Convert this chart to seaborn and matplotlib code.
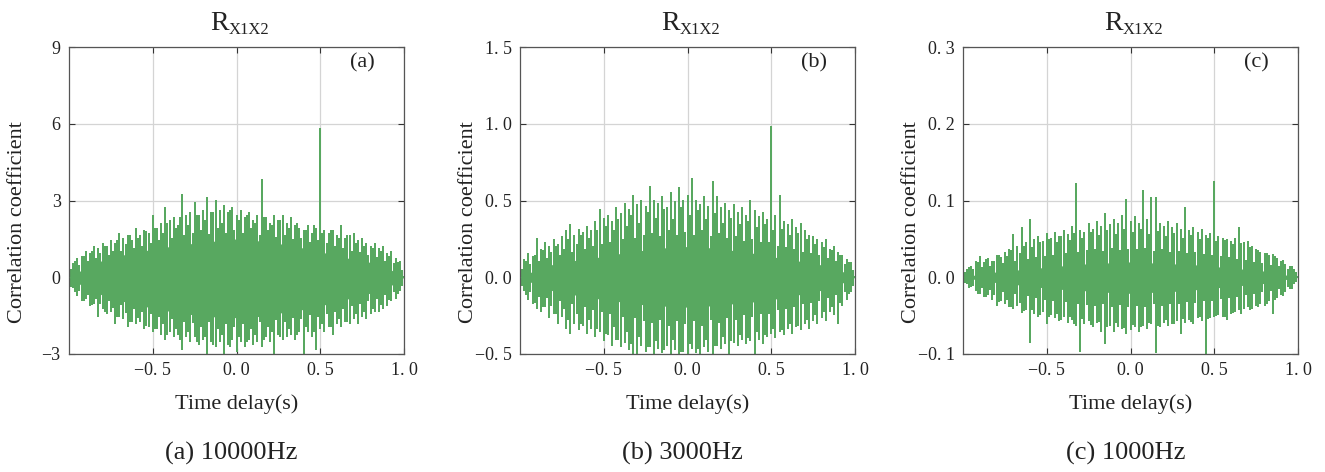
import numpy as np
import pandas as pd
import matplotlib
matplotlib.use("Agg")
import matplotlib.pyplot as plt
import seaborn as sns

# ---------------- data ----------------
# positions of the tip readings (time delay, s): main grid and mid points
t_peak = [round(-1 + 0.025 * i, 4) for i in range(81)]
t_mid = [round(-0.9875 + 0.025 * i, 4) for i in range(80)]
t_core = [round(-1 + 0.1 * i, 2) for i in range(21)]

# panel (a) 10000 Hz : upper / lower tips of the correlation trace
a_hi = [0.0, 0.5, 0.7, 0.8, 1.0, 0.9, 1.2, 1.1, 1.3, 1.2, 1.4, 1.3, 1.7, 1.5, 1.6, 1.4, 1.9, 1.6, 1.8, 1.7,
        2.4, 1.9, 2.1, 2.7, 2.2, 2.3, 2.0, 3.2, 2.4, 2.5, 2.9, 2.4, 2.6, 3.1, 2.5, 3.0, 2.6, 2.8, 2.5, 2.7,
        2.4, 2.6, 2.3, 2.5, 2.2, 2.4, 3.8, 2.3, 2.1, 2.4, 2.2, 2.4, 2.1, 2.3, 2.0, 1.9, 1.8, 2.0, 1.7, 1.9,
        5.8, 1.8, 1.7, 1.8, 1.6, 2.0, 1.5, 1.6, 1.7, 1.4, 1.5, 1.3, 1.2, 1.3, 1.1, 1.2, 0.9, 1.0, 0.7, 0.6, 0.0]
a_hi_mid = [0.3, 0.6, 0.45, 0.8, 0.6, 1.0, 0.7, 0.9, 1.2, 0.85, 1.0, 1.4, 1.0, 1.25, 1.6, 1.1, 1.5, 1.2, 1.75, 1.3,
            1.9, 1.4, 1.7, 2.1, 1.5, 1.9, 2.3, 1.6, 2.0, 1.7, 2.4, 1.8, 2.2, 1.65, 2.5, 1.9, 2.1, 1.7, 2.6, 1.8,
            2.2, 1.7, 2.4, 1.9, 2.1, 1.6, 2.3, 1.8, 2.0, 1.55, 2.2, 1.6, 1.9, 1.45, 2.1, 1.5, 1.8, 1.35, 2.0, 1.4,
            1.7, 1.3, 1.8, 1.2, 1.5, 1.1, 1.6, 1.0, 1.3, 0.95, 1.2, 0.85, 1.1, 0.75, 1.0, 0.6, 0.8, 0.5, 0.55, 0.25]
a_lo = [0.0, -0.4, -0.7, -0.9, -0.8, -1.1, -1.0, -1.5, -1.2, -1.4, -1.3, -1.8, -1.5, -1.6, -1.9, -1.7, -1.8, -1.7, -2.0, -1.9,
        -2.1, -2.0, -2.2, -2.4, -2.1, -2.3, -2.2, -2.8, -2.3, -2.5, -2.3, -2.6, -2.4, -3.2, -2.5, -2.7, -2.5, -3.2, -2.6, -2.4,
        -2.9, -2.5, -2.7, -2.4, -2.6, -2.5, -2.7, -2.3, -2.5, -3.2, -2.2, -2.4, -2.3, -2.2, -2.4, -2.1, -3.2, -2.1, -2.3, -2.8,
        -2.0, -2.1, -1.9, -2.2, -1.8, -1.9, -1.7, -1.8, -1.6, -1.8, -1.5, -1.6, -1.4, -1.3, -1.3, -1.2, -1.1, -0.9, -0.8, -0.5, 0.0]
a_lo_mid = [-0.35, -0.55, -0.5, -0.9, -0.65, -1.05, -0.8, -1.0, -1.3, -0.9, -1.15, -1.5, -1.05, -1.35, -1.7, -1.2, -1.55, -1.3, -1.85, -1.4,
            -2.0, -1.5, -1.8, -2.2, -1.6, -2.0, -2.4, -1.7, -2.1, -1.75, -2.5, -1.9, -2.3, -1.7, -2.6, -2.0, -2.2, -1.8, -2.7, -1.9,
            -2.3, -1.8, -2.5, -2.0, -2.2, -1.7, -2.4, -1.9, -2.1, -1.65, -2.3, -1.7, -2.0, -1.55, -2.2, -1.6, -1.9, -1.45, -2.1, -1.5,
            -1.8, -1.4, -1.9, -1.3, -1.6, -1.2, -1.7, -1.1, -1.4, -1.0, -1.3, -0.9, -1.2, -0.8, -1.05, -0.65, -0.85, -0.55, -0.6, -0.3]
a_core_hi = [0, 0.37, 0.66, 0.83, 1.0, 1.08, 1.2, 1.29, 1.37, 1.43, 1.5, 1.45, 1.36, 1.27, 1.14, 1.0, 0.83, 0.7, 0.58, 0.37, 0]
a_core_lo = [0, -0.42, -0.7, -0.9, -1.08, -1.2, -1.33, -1.43, -1.52, -1.56, -1.58, -1.56, -1.47, -1.35, -1.26, -1.12, -0.95, -0.79, -0.62, -0.42, 0]

# panel (b) 3000 Hz
b_hi = [0.0, 0.11, 0.15, 0.13, 0.25, 0.18, 0.22, 0.20, 0.24, 0.21, 0.26, 0.30, 0.34, 0.27, 0.31, 0.29, 0.33, 0.30, 0.36, 0.44,
        0.38, 0.40, 0.36, 0.45, 0.41, 0.48, 0.44, 0.53, 0.47, 0.50, 0.46, 0.59, 0.50, 0.48, 0.52, 0.45, 0.55, 0.49, 0.58, 0.50,
        0.53, 0.64, 0.50, 0.47, 0.52, 0.46, 0.62, 0.52, 0.45, 0.48, 0.43, 0.47, 0.42, 0.45, 0.40, 0.50, 0.43, 0.39, 0.42, 0.37,
        0.98, 0.40, 0.53, 0.36, 0.34, 0.37, 0.32, 0.35, 0.30, 0.27, 0.26, 0.24, 0.22, 0.24, 0.18, 0.20, 0.16, 0.14, 0.11, 0.09, 0.0]
b_hi_mid = [0.05, 0.10, 0.08, 0.14, 0.10, 0.17, 0.12, 0.16, 0.20, 0.14, 0.18, 0.24, 0.16, 0.21, 0.27, 0.18, 0.25, 0.20, 0.30, 0.21,
            0.33, 0.22, 0.30, 0.37, 0.24, 0.33, 0.40, 0.25, 0.35, 0.27, 0.42, 0.28, 0.38, 0.26, 0.44, 0.30, 0.37, 0.27, 0.45, 0.29,
            0.40, 0.27, 0.43, 0.30, 0.37, 0.26, 0.41, 0.28, 0.35, 0.25, 0.38, 0.26, 0.34, 0.23, 0.36, 0.24, 0.32, 0.22, 0.34, 0.22,
            0.30, 0.20, 0.31, 0.19, 0.27, 0.18, 0.28, 0.16, 0.24, 0.15, 0.21, 0.14, 0.19, 0.12, 0.17, 0.10, 0.14, 0.08, 0.09, 0.04]
b_lo = [0.0, -0.08, -0.14, -0.17, -0.20, -0.22, -0.19, -0.26, -0.23, -0.30, -0.25, -0.33, -0.36, -0.30, -0.34, -0.31, -0.36, -0.33, -0.38, -0.35,
        -0.41, -0.37, -0.44, -0.40, -0.45, -0.42, -0.47, -0.52, -0.55, -0.44, -0.48, -0.45, -0.50, -0.46, -0.49, -0.44, -0.52, -0.47, -0.55, -0.48,
        -0.55, -0.46, -0.49, -0.53, -0.45, -0.48, -0.55, -0.44, -0.46, -0.43, -0.55, -0.42, -0.44, -0.40, -0.43, -0.41, -0.55, -0.40, -0.43, -0.38,
        -0.36, -0.39, -0.35, -0.37, -0.33, -0.36, -0.32, -0.34, -0.30, -0.33, -0.28, -0.30, -0.26, -0.28, -0.22, -0.24, -0.30, -0.18, -0.14, -0.09, 0.0]
b_lo_mid = [-0.05, -0.11, -0.09, -0.16, -0.12, -0.19, -0.13, -0.18, -0.23, -0.15, -0.20, -0.27, -0.17, -0.23, -0.30, -0.19, -0.27, -0.21, -0.33, -0.22,
            -0.36, -0.23, -0.32, -0.40, -0.25, -0.35, -0.43, -0.26, -0.38, -0.28, -0.45, -0.29, -0.41, -0.27, -0.47, -0.31, -0.40, -0.28, -0.48, -0.30,
            -0.43, -0.28, -0.46, -0.31, -0.40, -0.27, -0.44, -0.29, -0.38, -0.26, -0.41, -0.27, -0.37, -0.24, -0.39, -0.25, -0.35, -0.23, -0.37, -0.23,
            -0.33, -0.21, -0.34, -0.20, -0.30, -0.19, -0.31, -0.17, -0.27, -0.16, -0.24, -0.15, -0.22, -0.13, -0.19, -0.11, -0.16, -0.09, -0.10, -0.05]
b_core_hi = [0, 0.05, 0.085, 0.105, 0.12, 0.135, 0.155, 0.17, 0.185, 0.195, 0.2, 0.195, 0.185, 0.17, 0.155, 0.135, 0.115, 0.1, 0.08, 0.05, 0]
b_core_lo = [0, -0.05, -0.09, -0.11, -0.13, -0.145, -0.16, -0.175, -0.185, -0.19, -0.195, -0.19, -0.18, -0.17, -0.16, -0.145, -0.13, -0.105, -0.085, -0.05, 0]

# panel (c) 1000 Hz
c_hi = [0.0, 0.010, 0.014, 0.020, 0.027, 0.018, 0.024, 0.020, 0.028, 0.025, 0.032, 0.036, 0.055, 0.040, 0.064, 0.045, 0.075, 0.048, 0.052, 0.046,
        0.056, 0.050, 0.058, 0.052, 0.060, 0.055, 0.065, 0.121, 0.060, 0.058, 0.070, 0.062, 0.072, 0.065, 0.083, 0.068, 0.075, 0.070, 0.080, 0.101,
        0.072, 0.078, 0.070, 0.113, 0.075, 0.103, 0.103, 0.070, 0.066, 0.072, 0.064, 0.070, 0.062, 0.090, 0.060, 0.064, 0.058, 0.062, 0.054, 0.056,
        0.124, 0.052, 0.050, 0.048, 0.046, 0.050, 0.064, 0.044, 0.046, 0.040, 0.036, 0.032, 0.030, 0.028, 0.029, 0.024, 0.020, 0.016, 0.014, 0.009, 0.0]
c_hi_mid = [0.006, 0.012, 0.009, 0.018, 0.012, 0.022, 0.014, 0.020, 0.028, 0.017, 0.026, 0.034, 0.020, 0.030, 0.040, 0.022, 0.038, 0.025, 0.045, 0.027,
            0.048, 0.028, 0.044, 0.052, 0.030, 0.047, 0.056, 0.032, 0.050, 0.034, 0.058, 0.035, 0.054, 0.033, 0.060, 0.037, 0.055, 0.034, 0.062, 0.036,
            0.058, 0.035, 0.061, 0.037, 0.055, 0.033, 0.059, 0.035, 0.052, 0.032, 0.056, 0.033, 0.050, 0.030, 0.054, 0.031, 0.048, 0.029, 0.050, 0.028,
            0.046, 0.026, 0.047, 0.025, 0.042, 0.023, 0.043, 0.021, 0.038, 0.019, 0.034, 0.017, 0.030, 0.015, 0.026, 0.013, 0.021, 0.010, 0.013, 0.005]
c_lo = [0.0, -0.008, -0.012, -0.016, -0.020, -0.025, -0.022, -0.028, -0.036, -0.030, -0.034, -0.038, -0.040, -0.036, -0.045, -0.042, -0.084, -0.046, -0.050, -0.044,
        -0.060, -0.048, -0.052, -0.056, -0.050, -0.058, -0.054, -0.062, -0.096, -0.060, -0.056, -0.064, -0.058, -0.070, -0.086, -0.062, -0.070, -0.064, -0.066, -0.073,
        -0.068, -0.064, -0.070, -0.062, -0.066, -0.060, -0.098, -0.064, -0.058, -0.062, -0.060, -0.056, -0.073, -0.058, -0.054, -0.060, -0.052, -0.056, -0.100, -0.052,
        -0.050, -0.048, -0.050, -0.055, -0.046, -0.044, -0.042, -0.040, -0.038, -0.040, -0.036, -0.034, -0.036, -0.030, -0.047, -0.026, -0.022, -0.018, -0.014, -0.008, 0.0]
c_lo_mid = [-0.006, -0.013, -0.010, -0.020, -0.013, -0.024, -0.015, -0.022, -0.031, -0.018, -0.028, -0.037, -0.021, -0.032, -0.043, -0.023, -0.041, -0.026, -0.048, -0.028,
            -0.051, -0.029, -0.047, -0.055, -0.031, -0.050, -0.059, -0.033, -0.053, -0.035, -0.061, -0.036, -0.057, -0.034, -0.063, -0.038, -0.058, -0.035, -0.065, -0.037,
            -0.061, -0.036, -0.064, -0.038, -0.058, -0.034, -0.062, -0.036, -0.055, -0.033, -0.059, -0.034, -0.053, -0.031, -0.057, -0.032, -0.051, -0.030, -0.053, -0.029,
            -0.049, -0.027, -0.050, -0.026, -0.045, -0.024, -0.046, -0.022, -0.041, -0.020, -0.037, -0.018, -0.033, -0.016, -0.028, -0.014, -0.023, -0.011, -0.014, -0.005]
c_core_hi = [0, 0.004, 0.007, 0.009, 0.011, 0.013, 0.015, 0.017, 0.018, 0.019, 0.02, 0.019, 0.018, 0.017, 0.016, 0.014, 0.012, 0.010, 0.008, 0.004, 0]
c_core_lo = [0, -0.004, -0.007, -0.009, -0.012, -0.014, -0.016, -0.017, -0.019, -0.02, -0.021, -0.02, -0.019, -0.018, -0.016, -0.014, -0.012, -0.010, -0.008, -0.004, 0]

x_ticks = [-0.5, 0.0, 0.5, 1.0]
x_ticklabels = ["\u22120. 5", "0. 0", "0. 5", "1. 0"]
a_yticks = [-3, 0, 3, 6, 9]
a_yticklabels = ["\u22123", "0", "3", "6", "9"]
b_yticks = [-0.5, 0.0, 0.5, 1.0, 1.5]
b_yticklabels = ["\u22120. 5", "0. 0", "0. 5", "1. 0", "1. 5"]
c_yticks = [-0.1, 0.0, 0.1, 0.2, 0.3]
c_yticklabels = ["\u22120. 1", "0. 0", "0. 1", "0. 2", "0. 3"]
panel_tags = ["(a)", "(b)", "(c)"]
captions = ["(a) 10000Hz", "(b) 3000Hz", "(c) 1000Hz"]
title_main = "R"
title_sub = "X1X2"

# ---------------- style ----------------
sns.set_theme(style="ticks")
plt.rcParams["font.family"] = ["Liberation Serif", "DejaVu Serif"]

GREEN = "#58a860"
TXT = "#222222"
fig = plt.figure(figsize=(13.25, 4.72), dpi=100)
W, H = 1325, 472
lefts = [69, 520, 963]
panels = [
    (a_hi, a_hi_mid, a_lo, a_lo_mid, a_core_hi, a_core_lo, a_yticks, a_yticklabels),
    (b_hi, b_hi_mid, b_lo, b_lo_mid, b_core_hi, b_core_lo, b_yticks, b_yticklabels),
    (c_hi, c_hi_mid, c_lo, c_lo_mid, c_core_hi, c_core_lo, c_yticks, c_yticklabels),
]

for k, (hi, him, lo, lom, chi, clo, yt, ytl) in enumerate(panels):
    ax = fig.add_axes([lefts[k] / W, 1 - 354 / H, 335 / W, 307 / H])
    # merge main and mid readings in time order
    samples = sorted(list(zip(t_peak, hi, lo)) + list(zip(t_mid, him, lom)))
    tt, rr = [], []
    for t, h, l in samples:
        # vertical stroke 0 -> upper tip -> lower tip -> 0 at each sample
        tt += [t, t, t, t]
        rr += [0.0, h, l, 0.0]
    df = pd.DataFrame({"t": tt, "r": rr})
    sns.lineplot(data=df, x="t", y="r", sort=False, estimator=None, ax=ax,
                 color=GREEN, linewidth=1.4, alpha=1.0)
    ax.fill_between(t_core, clo, chi, color=GREEN, linewidth=0, zorder=3)

    ax.set_xlim(-1, 1)
    ax.set_ylim(yt[0], yt[-1])
    ax.set_xticks(x_ticks)
    ax.set_xticklabels(x_ticklabels, fontsize=13)
    ax.set_yticks(yt)
    ax.set_yticklabels(ytl, fontsize=13)
    ax.grid(True, color="#d4d4d4", linewidth=0.9)
    ax.set_axisbelow(True)
    ax.tick_params(direction="in", top=True, right=True, length=4, width=0.8,
                   colors="#333333", labelcolor=TXT, pad=6)
    for s in ax.spines.values():
        s.set_color("#555555")
        s.set_linewidth(0.9)
        s.set_visible(True)
    ax.set_xlabel("Time delay(s)", fontsize=16, color=TXT)
    ax.xaxis.set_label_coords(0.5, -0.163)
    ax.xaxis.label.set_va("center")
    ax.set_ylabel("Correlation coefficient", fontsize=16, color=TXT)
    ax.yaxis.set_label_coords(-0.155, 0.43)
    ax.yaxis.label.set_va("center")
    # title R with subscript X1X2
    xs = (lefts[k] + 160) / W
    fig.text(xs, 1 - 30 / H, title_main, ha="right", va="baseline", fontsize=20, color=TXT)
    fig.text(xs, 1 - 34 / H, title_sub, ha="left", va="baseline", fontsize=12, color=TXT)
    ax.text(0.877, 0.948, panel_tags[k], transform=ax.transAxes, ha="center",
            va="center", fontsize=16, color=TXT)
    fig.text((lefts[k] + 335 / 2 - 5) / W, 1 - 453 / H, captions[k], ha="center",
             va="center", fontsize=19, color=TXT)

fig.savefig("out.png", dpi=100)
